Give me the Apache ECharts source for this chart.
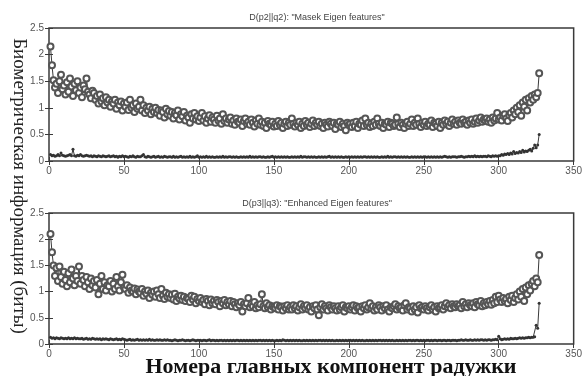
<!DOCTYPE html>
<html>
<head>
<meta charset="utf-8">
<script src="https://cdn.jsdelivr.net/npm/echarts@6/dist/echarts.min.js"></script>
<style>
    html,body{margin:0;padding:0;background:#fff;}
    #chart{width:585px;height:376px;}
</style>
</head>
<body>
<div id="chart"></div>
<script>
    // D(p2||q2) - Masek, circles (upper) and dots (lower)
    const masekUpper = [
        2.15,1.8,1.52,1.38,1.45,1.28,1.5,1.62,1.35,1.42,
        1.25,1.48,1.3,1.55,1.4,1.22,1.45,1.33,1.5,1.28,
        1.38,1.2,1.42,1.35,1.55,1.3,1.25,1.18,1.32,1.28,
        1.15,1.22,1.08,1.25,1.12,1.18,1.05,1.2,1.1,1.15,
        1.02,1.12,1.08,1.15,0.98,1.1,1.05,1.12,0.95,1.08,
        1.02,1.1,0.96,1.15,1.0,1.05,0.92,1.08,0.98,1.02,
        1.15,0.95,1.05,0.9,1.0,0.95,1.02,0.88,0.98,0.92,
        1.0,0.9,0.96,0.85,0.95,0.92,0.82,0.98,0.88,0.94,
        0.85,0.92,0.8,0.9,0.86,0.95,0.78,0.88,0.84,0.92,
        0.76,0.85,0.82,0.72,0.88,0.8,0.9,0.78,0.84,0.75,
        0.82,0.9,0.76,0.84,0.72,0.8,0.86,0.74,0.82,0.78,
        0.72,0.85,0.76,0.8,0.7,0.88,0.75,0.8,0.72,0.78,
        0.82,0.7,0.76,0.68,0.8,0.74,0.72,0.78,0.66,0.75,
        0.8,0.7,0.74,0.68,0.78,0.72,0.65,0.76,0.7,0.8,
        0.68,0.74,0.66,0.72,0.62,0.75,0.7,0.68,0.74,0.65,
        0.7,0.66,0.75,0.68,0.72,0.62,0.7,0.74,0.66,0.72,
        0.68,0.8,0.7,0.65,0.72,0.68,0.74,0.62,0.7,0.66,
        0.75,0.68,0.72,0.64,0.7,0.76,0.66,0.72,0.68,0.74,
        0.66,0.7,0.62,0.72,0.68,0.65,0.74,0.7,0.66,0.72,
        0.6,0.7,0.68,0.74,0.64,0.7,0.66,0.58,0.72,0.68,
        0.7,0.64,0.72,0.66,0.74,0.62,0.7,0.68,0.76,0.66,
        0.8,0.68,0.72,0.64,0.7,0.66,0.74,0.68,0.8,0.7,
        0.66,0.72,0.62,0.7,0.68,0.74,0.64,0.72,0.7,0.66,
        0.68,0.82,0.7,0.64,0.72,0.68,0.62,0.7,0.74,0.66,
        0.7,0.78,0.66,0.72,0.68,0.8,0.7,0.64,0.72,0.68,
        0.74,0.66,0.7,0.68,0.76,0.64,0.72,0.7,0.66,0.74,
        0.62,0.72,0.68,0.76,0.7,0.74,0.66,0.72,0.78,0.7,
        0.74,0.68,0.76,0.72,0.7,0.78,0.72,0.74,0.68,0.76,
        0.72,0.78,0.7,0.74,0.8,0.72,0.76,0.82,0.74,0.78,
        0.76,0.8,0.74,0.78,0.72,0.82,0.76,0.8,0.9,0.78,
        0.82,0.76,0.85,0.88,0.8,0.75,0.86,0.9,0.82,0.95,
        0.88,1.0,0.92,1.05,0.85,1.1,1.02,1.15,0.95,1.18,
        1.1,1.22,1.15,1.25,1.2,1.28,1.65
    ]
    const masekLower = [
        0.12,0.1,0.11,0.09,0.1,0.12,0.1,0.15,0.11,0.1,
        0.09,0.1,0.11,0.12,0.1,0.22,0.1,0.09,0.11,0.1,
        0.12,0.1,0.09,0.1,0.11,0.1,0.09,0.1,0.08,0.1,
        0.09,0.08,0.1,0.09,0.08,0.1,0.09,0.08,0.09,0.1,
        0.08,0.09,0.1,0.08,0.09,0.07,0.09,0.08,0.1,0.08,
        0.09,0.08,0.07,0.09,0.08,0.1,0.08,0.07,0.09,0.08,
        0.08,0.1,0.12,0.08,0.07,0.09,0.08,0.07,0.08,0.09,
        0.07,0.08,0.09,0.07,0.08,0.07,0.09,0.08,0.07,0.08,
        0.08,0.07,0.09,0.07,0.08,0.07,0.08,0.09,0.07,0.08,
        0.07,0.08,0.07,0.09,0.07,0.08,0.07,0.08,0.1,0.07,
        0.08,0.07,0.08,0.07,0.09,0.07,0.08,0.07,0.08,0.07,
        0.07,0.08,0.07,0.08,0.07,0.09,0.07,0.08,0.07,0.08,
        0.08,0.07,0.08,0.07,0.08,0.07,0.07,0.08,0.07,0.08,
        0.07,0.08,0.07,0.09,0.07,0.08,0.07,0.08,0.07,0.08,
        0.08,0.07,0.08,0.07,0.07,0.08,0.07,0.08,0.09,0.07,
        0.08,0.07,0.08,0.07,0.08,0.07,0.08,0.07,0.08,0.07,
        0.07,0.08,0.07,0.08,0.07,0.08,0.07,0.09,0.07,0.08,
        0.08,0.07,0.08,0.07,0.08,0.07,0.08,0.07,0.07,0.08,
        0.07,0.08,0.07,0.08,0.07,0.08,0.09,0.07,0.08,0.07,
        0.08,0.07,0.08,0.07,0.08,0.07,0.07,0.08,0.07,0.08,
        0.07,0.08,0.07,0.08,0.07,0.08,0.07,0.08,0.07,0.08,
        0.08,0.07,0.08,0.07,0.08,0.07,0.08,0.07,0.08,0.07,
        0.07,0.08,0.07,0.08,0.07,0.09,0.07,0.08,0.07,0.08,
        0.08,0.07,0.08,0.07,0.08,0.07,0.08,0.07,0.08,0.07,
        0.07,0.08,0.07,0.08,0.07,0.08,0.07,0.08,0.07,0.08,
        0.08,0.07,0.08,0.07,0.08,0.07,0.08,0.07,0.08,0.07,
        0.08,0.07,0.08,0.09,0.08,0.07,0.08,0.07,0.08,0.08,
        0.08,0.07,0.08,0.08,0.09,0.08,0.07,0.08,0.08,0.09,
        0.08,0.09,0.08,0.1,0.08,0.09,0.08,0.09,0.08,0.09,
        0.09,0.08,0.1,0.09,0.08,0.1,0.09,0.1,0.09,0.1,
        0.1,0.12,0.11,0.13,0.12,0.14,0.12,0.15,0.13,0.18,
        0.14,0.16,0.15,0.18,0.16,0.2,0.17,0.19,0.18,0.2,
        0.22,0.19,0.24,0.3,0.25,0.3,0.5
    ]

    // D(p3||q3) - Enhanced
    const enhancedUpper = [
        2.1,1.75,1.5,1.3,1.45,1.2,1.48,1.28,1.15,1.38,
        1.22,1.1,1.35,1.18,1.42,1.25,1.12,1.3,1.2,1.48,
        1.15,1.3,1.22,1.1,1.28,1.18,1.05,1.25,1.12,1.2,
        1.08,1.22,0.95,1.15,1.3,1.05,1.18,1.02,1.12,1.1,
        1.2,1.0,1.15,1.05,1.28,1.1,1.02,1.18,1.32,1.08,
        1.05,1.12,0.98,1.08,1.02,1.0,1.06,0.95,1.04,1.0,
        0.98,1.05,0.92,1.0,0.96,1.02,0.88,0.98,0.94,1.0,
        0.9,1.02,0.95,0.88,1.05,0.92,0.86,0.98,0.9,0.95,
        0.88,0.94,0.85,0.96,0.82,0.9,0.87,0.92,0.84,0.9,
        0.82,0.88,0.86,0.8,0.92,0.85,0.9,0.78,0.86,0.82,
        0.88,0.8,0.84,0.76,0.86,0.82,0.74,0.85,0.78,0.82,
        0.76,0.84,0.8,0.72,0.82,0.78,0.84,0.74,0.8,0.76,
        0.82,0.72,0.8,0.76,0.7,0.78,0.74,0.8,0.62,0.76,
        0.72,0.78,0.88,0.7,0.76,0.72,0.8,0.68,0.74,0.7,
        0.76,0.95,0.72,0.68,0.78,0.7,0.74,0.66,0.72,0.7,
        0.68,0.74,0.66,0.72,0.7,0.64,0.72,0.68,0.74,0.66,
        0.7,0.66,0.74,0.68,0.72,0.64,0.7,0.76,0.66,0.72,
        0.68,0.74,0.66,0.7,0.62,0.72,0.68,0.74,0.66,0.55,
        0.7,0.76,0.66,0.72,0.68,0.64,0.74,0.7,0.66,0.72,
        0.68,0.64,0.72,0.66,0.7,0.74,0.62,0.7,0.68,0.72,
        0.66,0.7,0.74,0.64,0.72,0.68,0.7,0.62,0.72,0.68,
        0.74,0.66,0.7,0.78,0.68,0.72,0.64,0.7,0.66,0.74,
        0.7,0.64,0.72,0.68,0.74,0.66,0.62,0.7,0.68,0.72,
        0.76,0.66,0.72,0.68,0.7,0.64,0.74,0.78,0.66,0.7,
        0.68,0.62,0.72,0.66,0.7,0.6,0.74,0.68,0.7,0.66,
        0.72,0.68,0.64,0.7,0.74,0.66,0.7,0.62,0.72,0.68,
        0.7,0.74,0.66,0.72,0.78,0.7,0.74,0.68,0.76,0.72,
        0.7,0.76,0.72,0.74,0.68,0.8,0.72,0.76,0.7,0.78,
        0.74,0.72,0.78,0.7,0.8,0.76,0.74,0.82,0.72,0.78,
        0.74,0.8,0.76,0.82,0.75,0.84,0.78,0.9,0.8,0.92,
        0.85,0.8,0.88,0.82,0.86,0.78,0.9,0.84,0.92,0.8,
        0.88,0.95,0.85,1.0,0.9,1.05,0.82,1.08,0.95,1.12,
        1.02,1.15,1.2,1.1,1.25,1.18,1.7
    ]
    const enhancedLower = [
        0.13,0.11,0.12,0.1,0.12,0.11,0.1,0.12,0.11,0.1,
        0.11,0.1,0.12,0.1,0.11,0.1,0.12,0.1,0.11,0.1,
        0.1,0.11,0.09,0.1,0.11,0.09,0.1,0.09,0.11,0.1,
        0.09,0.1,0.09,0.1,0.08,0.1,0.09,0.1,0.09,0.08,
        0.1,0.09,0.08,0.09,0.1,0.08,0.09,0.08,0.1,0.09,
        0.08,0.07,0.08,0.09,0.07,0.08,0.07,0.08,0.09,0.07,
        0.08,0.07,0.08,0.07,0.08,0.07,0.09,0.07,0.08,0.07,
        0.07,0.08,0.07,0.08,0.07,0.07,0.08,0.07,0.08,0.07,
        0.07,0.06,0.07,0.08,0.07,0.06,0.07,0.07,0.08,0.07,
        0.06,0.07,0.07,0.06,0.07,0.08,0.07,0.06,0.07,0.07,
        0.07,0.06,0.07,0.07,0.06,0.07,0.08,0.06,0.07,0.07,
        0.06,0.07,0.06,0.07,0.07,0.06,0.07,0.06,0.07,0.06,
        0.07,0.06,0.07,0.06,0.07,0.07,0.06,0.07,0.06,0.07,
        0.06,0.07,0.06,0.07,0.06,0.07,0.06,0.07,0.06,0.07,
        0.07,0.06,0.07,0.06,0.07,0.06,0.07,0.06,0.07,0.06,
        0.06,0.07,0.06,0.07,0.06,0.08,0.07,0.06,0.07,0.06,
        0.07,0.06,0.07,0.06,0.07,0.06,0.07,0.06,0.06,0.07,
        0.06,0.07,0.06,0.07,0.06,0.07,0.06,0.07,0.06,0.07,
        0.07,0.06,0.07,0.06,0.07,0.06,0.07,0.06,0.07,0.06,
        0.06,0.07,0.06,0.07,0.06,0.07,0.06,0.07,0.06,0.07,
        0.07,0.06,0.07,0.06,0.07,0.06,0.07,0.06,0.07,0.06,
        0.06,0.07,0.06,0.07,0.06,0.07,0.06,0.07,0.06,0.07,
        0.07,0.06,0.07,0.06,0.07,0.06,0.07,0.06,0.07,0.06,
        0.06,0.07,0.06,0.07,0.06,0.07,0.06,0.07,0.06,0.07,
        0.07,0.06,0.07,0.06,0.07,0.07,0.06,0.07,0.06,0.07,
        0.06,0.07,0.07,0.06,0.07,0.06,0.07,0.07,0.06,0.07,
        0.07,0.06,0.07,0.07,0.06,0.07,0.07,0.06,0.07,0.07,
        0.07,0.06,0.07,0.07,0.08,0.07,0.07,0.08,0.07,0.07,
        0.08,0.07,0.07,0.08,0.07,0.08,0.07,0.08,0.08,0.07,
        0.08,0.07,0.08,0.08,0.07,0.08,0.08,0.09,0.08,0.15,
        0.1,0.08,0.09,0.1,0.09,0.1,0.09,0.11,0.1,0.1,
        0.11,0.1,0.11,0.12,0.11,0.12,0.11,0.12,0.12,0.13,
        0.12,0.13,0.13,0.14,0.36,0.3,0.78
    ]

    const xTicks = {min: 0, max: 350, interval: 50}
    const yTicks = {min: 0, max: 2.5, interval: 0.5}
    const titles = ['D(p2||q2): "Masek Eigen features"', 'D(p3||q3): "Enhanced Eigen features"']

    const ink = '#3a3a3a'
    const toPoints = arr => arr.map((v, i) => [i + 1, v])

    // one x/y axis pair per grid, plus a copy on top/right just for the inner ticks (matlab box)
    const xAxes = []
    const yAxes = []
    ;[0, 1].forEach(g => {
        xAxes.push({
            type: 'value', gridIndex: g, position: 'bottom', ...xTicks,
            axisLine: {show: false},
            axisTick: {inside: true, length: 4, lineStyle: {color: ink}},
            axisLabel: {color: '#555', fontSize: 10, fontFamily: 'Liberation Sans', margin: 5},
            splitLine: {show: false}
        })
        yAxes.push({
            type: 'value', gridIndex: g, position: 'left', ...yTicks,
            axisLine: {show: false},
            axisTick: {inside: true, length: 4, lineStyle: {color: ink}},
            axisLabel: {color: '#555', fontSize: 10, fontFamily: 'Liberation Sans', margin: 5},
            splitLine: {show: false}
        })
    })
    ;[0, 1].forEach(g => {
        xAxes.push({
            type: 'value', gridIndex: g, position: 'top', ...xTicks,
            axisLine: {show: false}, axisLabel: {show: false}, splitLine: {show: false},
            axisTick: {inside: true, length: 4, lineStyle: {color: ink}}
        })
        yAxes.push({
            type: 'value', gridIndex: g, position: 'right', ...yTicks,
            axisLine: {show: false}, axisLabel: {show: false}, splitLine: {show: false},
            axisTick: {inside: true, length: 4, lineStyle: {color: ink}}
        })
    })

    const circleSeries = (data, idx) => ({
        type: 'line', xAxisIndex: idx, yAxisIndex: idx,
        data: toPoints(data),
        symbol: 'emptyCircle', symbolSize: 6,
        showAllSymbol: true,
        lineStyle: {color: ink, width: 1},
        itemStyle: {color: '#555', borderColor: '#555', borderWidth: 1},
        animation: false
    })
    const dotSeries = (data, idx) => ({
        type: 'line', xAxisIndex: idx, yAxisIndex: idx,
        data: toPoints(data),
        symbol: 'circle', symbolSize: 3,
        showAllSymbol: true,
        lineStyle: {color: ink, width: 1},
        itemStyle: {color: '#333'},
        animation: false
    })

    const chart = echarts.init(document.getElementById('chart'))
    chart.setOption({
        backgroundColor: '#fff',
        title: [
            {text: titles[0], left: 312, top: 8, textAlign: 'center',
             textStyle: {fontSize: 9, fontWeight: 'normal', color: '#444', fontFamily: 'Liberation Sans'}},
            {text: titles[1], left: 312, top: 194, textAlign: 'center',
             textStyle: {fontSize: 9, fontWeight: 'normal', color: '#444', fontFamily: 'Liberation Sans'}}
        ],
        grid: [
            {left: 49, top: 28, width: 526, height: 133, show: true, borderColor: ink, borderWidth: 1.5, backgroundColor: 'transparent'},
            {left: 49, top: 213, width: 526, height: 131, show: true, borderColor: ink, borderWidth: 1.5, backgroundColor: 'transparent'}
        ],
        xAxis: xAxes,
        yAxis: yAxes,
        series: [
            circleSeries(masekUpper, 0),
            dotSeries(masekLower, 0),
            circleSeries(enhancedUpper, 1),
            dotSeries(enhancedLower, 1)
        ],
        graphic: [
            {
                type: 'text', x: 19, y: 186, rotation: -Math.PI / 2,
                style: {
                    text: 'Биометрическая информация (биты)',
                    fill: '#222', fontSize: 19, fontFamily: 'Liberation Serif',
                    textAlign: 'center', textVerticalAlign: 'middle'
                }
            },
            {
                type: 'text', x: 331, y: 367,
                style: {
                    text: 'Номера главных компонент радужки',
                    fill: '#111', fontSize: 22, fontWeight: 'bold', fontFamily: 'Liberation Serif',
                    textAlign: 'center', textVerticalAlign: 'middle'
                }
            }
        ]
    })
</script>
</body>
</html>
